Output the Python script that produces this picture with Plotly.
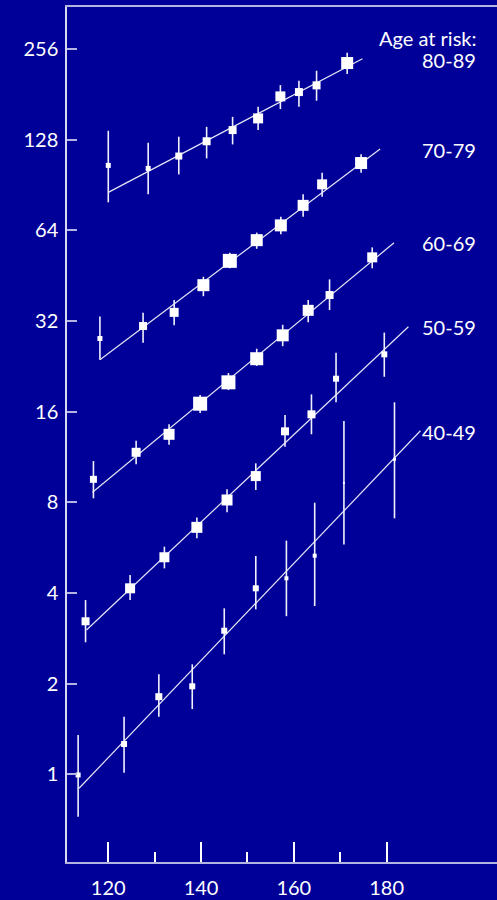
import plotly.graph_objects as go

# ---- data ----
groups = ["80-89", "70-79", "60-69", "50-59", "40-49"]

x_80 = [120.0, 128.6, 135.2, 141.2, 146.8, 152.3, 157.1, 161.1, 164.9, 171.5]
y_80 = [105.2, 102.8, 113.0, 126.5, 137.8, 150.7, 178.3, 184.3, 194.0, 230.1]
hi_80 = [137.1, 125.1, 131.0, 141.3, 152.5, 164.7, 194.4, 201.0, 216.9, 249.0]
lo_80 = [79.3, 84.3, 98.2, 111.0, 123.5, 137.8, 161.8, 164.7, 172.5, 211.4]
n_80 = [5, 5, 7, 8, 8, 10, 10, 8, 8, 12]
fitx_80 = [120.0, 174.8]
fity_80 = [85.6, 237.8]

x_70 = [118.2, 127.5, 134.2, 140.5, 146.2, 152.0, 157.2, 162.0, 166.1, 174.5]
y_70 = [28.0, 30.8, 34.2, 42.1, 50.7, 59.4, 66.5, 77.5, 91.0, 107.1]
hi_70 = [33.1, 34.1, 37.6, 44.9, 53.9, 62.9, 71.0, 84.3, 99.5, 114.5]
lo_70 = [23.8, 27.1, 31.0, 38.7, 47.9, 55.6, 62.1, 71.0, 82.8, 99.5]
n_70 = [5, 8, 9, 12, 14, 12, 12, 11, 10, 12]
fitx_70 = [118.2, 178.6]
fity_70 = [23.8, 119.2]

x_60 = [116.8, 126.0, 133.1, 139.8, 145.9, 152.0, 157.6, 163.1, 167.7, 176.9]
y_60 = [9.54, 11.73, 13.46, 17.01, 20.03, 23.99, 28.69, 34.73, 39.04, 52.08]
hi_60 = [10.97, 12.81, 14.53, 18.17, 21.51, 25.9, 31.1, 37.6, 44.0, 56.2]
lo_60 = [8.25, 10.70, 12.43, 15.84, 18.88, 22.7, 26.4, 31.7, 34.8, 47.9]
n_60 = [7, 9, 11, 14, 14, 13, 12, 11, 8, 10]
fitx_60 = [116.6, 181.6]
fity_60 = [8.64, 58.2]

x_50 = [115.1, 124.7, 132.1, 139.1, 145.6, 151.8, 158.1, 163.8, 169.1, 179.5]
y_50 = [3.222, 4.146, 5.257, 6.608, 8.146, 9.78, 13.77, 15.68, 20.59, 24.81]
hi_50 = [3.79, 4.59, 5.70, 7.13, 8.85, 10.78, 15.60, 18.27, 25.1, 29.3]
lo_50 = [2.744, 3.79, 4.83, 6.08, 7.41, 8.79, 12.24, 13.46, 17.19, 20.9]
n_50 = [8, 10, 10, 11, 11, 10, 8, 8, 6, 6]
fitx_50 = [115.3, 184.7]
fity_50 = [3.014, 30.64]

x_40 = [113.5, 123.4, 130.9, 138.1, 145.0, 151.8, 158.4, 164.5, 170.8, 181.7]
y_40 = [0.995, 1.261, 1.810, 1.960, 2.998, 4.146, 4.476, 5.32, 9.29, 11.12]
hi_40 = [1.350, 1.553, 2.148, 2.318, 3.558, 5.31, 5.97, 7.98, 14.90, 17.19]
lo_40 = [0.723, 1.012, 1.553, 1.647, 2.503, 3.53, 3.35, 3.62, 5.80, 7.08]
n_40 = [5, 6, 7, 6, 6, 6, 4, 4, 2, 3]
fitx_40 = [113.7, 187.3]
fity_40 = [0.899, 13.83]

y_ticks = [1, 2, 4, 8, 16, 32, 64, 128, 256]
x_ticks = [120, 140, 160, 180]
x_minor = [130, 150, 170]

# ---- styling ----
BG = "#000099"
WHITE = "#ffffff"
AXIS = "#b4b4e0"
FONT = "Lato, Open Sans, sans-serif"
FS = 20

series = [
    (x_80, y_80, hi_80, lo_80, n_80, fitx_80, fity_80),
    (x_70, y_70, hi_70, lo_70, n_70, fitx_70, fity_70),
    (x_60, y_60, hi_60, lo_60, n_60, fitx_60, fity_60),
    (x_50, y_50, hi_50, lo_50, n_50, fitx_50, fity_50),
    (x_40, y_40, hi_40, lo_40, n_40, fitx_40, fity_40),
]

fig = go.Figure()
for xs, ys, his, los, ns, fx, fy in series:
    fig.add_trace(go.Scatter(
        x=fx, y=fy, mode="lines",
        line=dict(color="#e6e6f6", width=1.2),
        hoverinfo="skip", showlegend=False,
    ))
    fig.add_trace(go.Scatter(
        x=xs, y=ys, mode="markers",
        marker=dict(symbol="square", size=ns, color=WHITE, opacity=1,
                    line=dict(width=0)),
        error_y=dict(
            type="data", symmetric=False,
            array=[h - v for h, v in zip(his, ys)],
            arrayminus=[v - l for v, l in zip(ys, los)],
            color="#f0f0fa", thickness=1.6, width=0,
        ),
        showlegend=False,
    ))

# labels
label_y = {"80-89": 0.938, "70-79": 0.8327, "60-69": 0.7236,
           "50-59": 0.6261, "40-49": 0.5033}
fig.add_annotation(text="Age at risk:", xref="paper", yref="paper",
                   x=0.9558, y=0.9632, xanchor="right", yanchor="middle",
                   showarrow=False, font=dict(size=FS, color=WHITE, family=FONT))
for g in groups:
    fig.add_annotation(text=g, xref="paper", yref="paper",
                       x=0.9558, y=label_y[g], xanchor="right", yanchor="middle",
                       showarrow=False, font=dict(size=FS, color=WHITE, family=FONT))

fig.update_xaxes(
    range=[111.1, 203.8], showgrid=False, zeroline=False,
    showline=True, linecolor=AXIS, linewidth=1.5, mirror=True,
    tickmode="array", tickvals=x_ticks, ticktext=[str(v) for v in x_ticks],
    ticks="inside", ticklen=20, tickwidth=1.5, tickcolor=WHITE,
    minor=dict(tickmode="array", tickvals=x_minor, ticks="inside",
               ticklen=10, tickwidth=1.5, tickcolor=WHITE, showgrid=False),
    tickfont=dict(size=FS, color=WHITE, family=FONT),
    ticklabelstandoff=7,
)
fig.update_yaxes(
    type="log", range=[-0.2912, 2.548], showgrid=False, zeroline=False,
    showline=True, linecolor="#d8d8f0", linewidth=1.5,
    tickmode="array", tickvals=y_ticks, ticktext=[str(v) for v in y_ticks],
    ticks="inside", ticklen=10, tickwidth=1.5, tickcolor=AXIS,
    tickfont=dict(size=FS, color=WHITE, family=FONT),
    ticklabelstandoff=3,
)

fig.update_layout(
    width=497, height=900,
    margin=dict(l=67, r=0, t=7, b=38),
    paper_bgcolor=BG, plot_bgcolor=BG,
    showlegend=False,
)

fig.write_html("out.html")
